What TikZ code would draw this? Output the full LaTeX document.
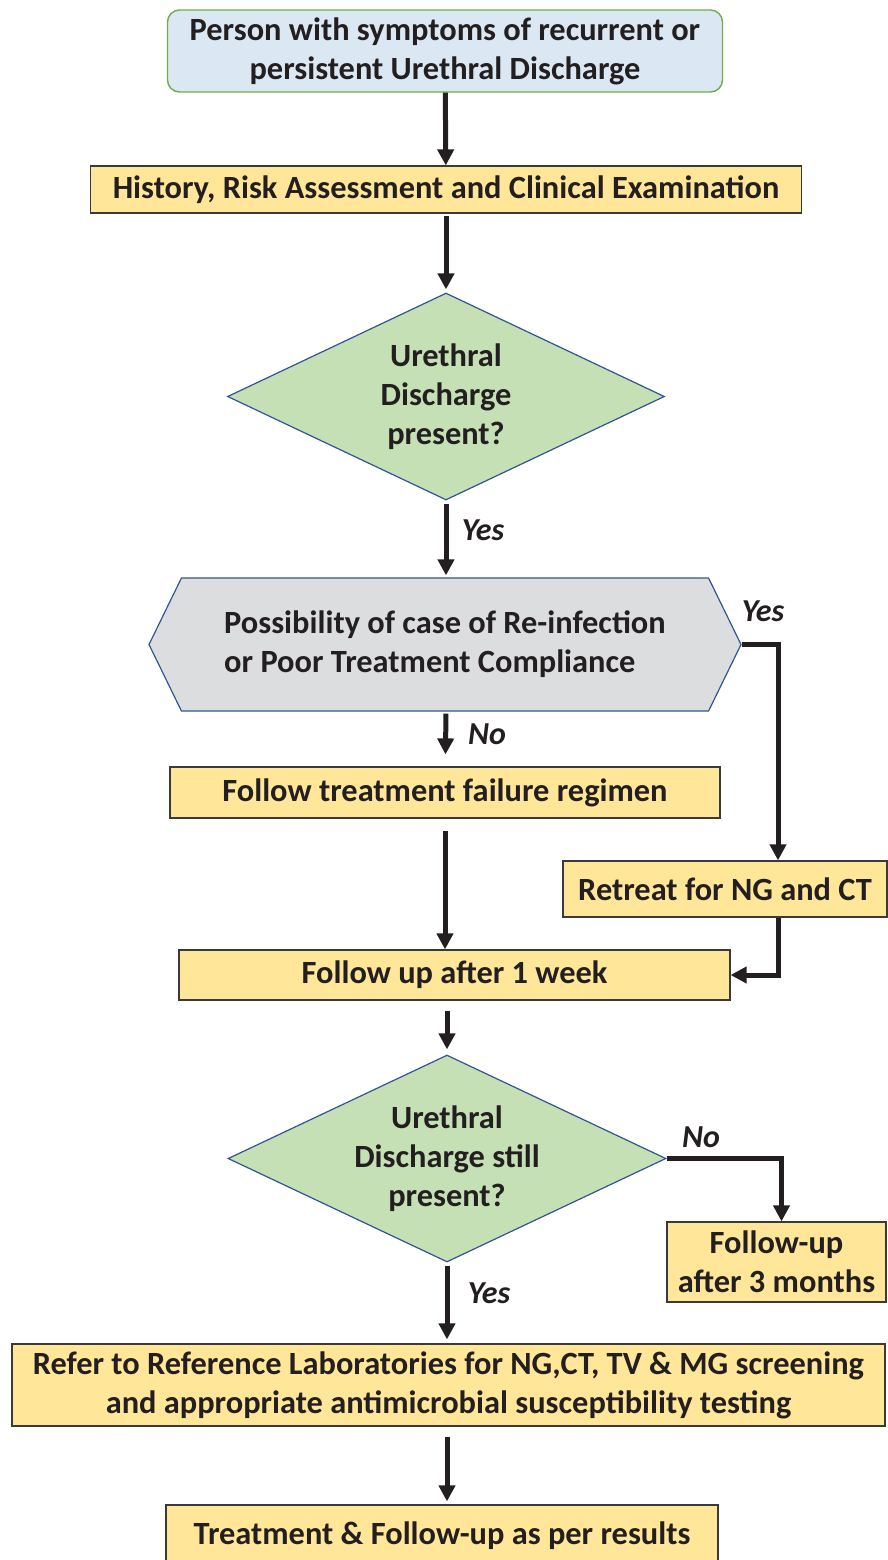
\documentclass[tikz,border=0pt]{standalone}
\usepackage{fontspec}
\setmainfont{Carlito}
\usetikzlibrary{shapes.geometric}
\usetikzlibrary{shapes.symbols}
\usetikzlibrary{arrows.meta}
\usetikzlibrary{calc}

\definecolor{inkblack}{HTML}{231F20}
\definecolor{boxyellow}{HTML}{FFE699}
\definecolor{edgegray}{HTML}{3A3A3A}
\definecolor{edgeblue}{HTML}{2F5597}
\definecolor{leafgreen}{HTML}{C5E0B4}
\definecolor{skyblue}{HTML}{DCE7F4}
\definecolor{startgreen}{HTML}{70AD47}
\definecolor{hexgray}{HTML}{DCDDDF}

\begin{document}
\begin{tikzpicture}[x=0.5pt, y=-0.5pt,
        every node/.style={font=\fontsize{16.2}{19.6}\selectfont\bfseries, text=inkblack},
        stepbox/.style={rectangle, draw=edgegray, line width=0.6pt, fill=boxyellow, align=center, inner sep=0},
        decide/.style={diamond, shape aspect=2.1, draw=edgeblue, line width=0.6pt, fill=leafgreen,
            align=center, inner sep=0, minimum width=218.5pt, minimum height=103.5pt},
        flow/.style={-{Triangle[width=8pt,length=8pt]}, line width=2.5pt, draw=inkblack},
        answer/.style={font=\fontsize{16}{18}\selectfont\bfseries\itshape}]
    \useasboundingbox (0,0) rectangle (888,1560);
    % main column
    \node [rectangle, rounded corners=6pt, draw=startgreen, line width=0.7pt, fill=skyblue, align=center,
        inner sep=0, minimum width=277.5pt, minimum height=41pt] (start) at (445,51)
        {Person with symptoms of recurrent or\\persistent Urethral Discharge};
    \node [stepbox, minimum width=355.5pt, minimum height=23.5pt] (hist) at (446,189.5)
        {History, Risk Assessment and Clinical Examination};
    \node [decide] (dia1) at (446,396.5) {Urethral\\Discharge\\present?};
    \node [signal, signal to=west and east, signal pointer angle=128, draw=edgeblue, line width=0.6pt,
        fill=hexgray, align=left, inner sep=0, minimum width=296pt, minimum height=66.5pt] (hex) at (445,644.5)
        {Possibility of case of Re-infection\\or Poor Treatment Compliance};
    \node [stepbox, minimum width=275pt, minimum height=25.5pt] (fail) at (445,792.5)
        {Follow treatment failure regimen};
    \node [stepbox, minimum width=162pt, minimum height=28pt] (retreat) at (725,889)
        {Retreat for NG and CT};
    \node [stepbox, minimum width=275.5pt, minimum height=25pt] (week) at (454.5,975)
        {Follow up after 1 week};
    \node [decide, minimum width=219pt] (dia2) at (447,1158.5) {Urethral\\Discharge still\\present?};
    \node [stepbox, minimum width=109.5pt, minimum height=40pt] (three) at (776.5,1262)
        {Follow-up\\after 3 months};
    \node [stepbox, minimum width=436.5pt, minimum height=41pt] (refer) at (448.5,1385)
        {Refer to Reference Laboratories for NG,CT, TV \& MG screening\\and appropriate antimicrobial susceptibility testing};
    \node [stepbox, minimum width=276pt, minimum height=31pt] (treat) at (442,1536)
        {Treatment \& Follow-up as per results};
    % answers
    \node [answer] (yes1) at (483,530) {Yes};
    \node [answer] (yes2) at (763,611) {Yes};
    \node [answer] (no1) at (487,734) {No};
    \node [answer] (no2) at (701,1137) {No};
    \node [answer] (yes3) at (489,1293) {Yes};
    % connectors
    \draw [flow] (start) -- (hist);
    \draw [flow, shorten <=1pt, shorten >=1.5pt] (hist) -- (dia1);
    \draw [flow, shorten <=1.5pt, shorten >=1pt] (dia1) -- (dia1.south |- hex.north);
    \draw [flow, shorten <=1pt, shorten >=6pt] (dia1.south |- hex.south) -- (fail);
    \draw [flow] (hex.east) -| ($(retreat.north)+(53,0)$);
    \draw [flow, shorten <=6pt] (fail) -- (fail.south |- week.north);
    \draw [flow] ($(retreat.south)+(53,0)$) |- (week.east);
    \draw [flow, shorten <=5pt, shorten >=2.5pt] (dia2.north |- week.south) -- (dia2.north);
    \draw [flow] (dia2.east) -| ($(three.north)+(5,0)$);
    \draw [flow, shorten <=1.5pt, shorten >=2pt] (dia2) -- (dia2.south |- refer.north);
    \draw [flow, shorten <=5pt, shorten >=1.5pt] (refer.south -| dia2.south) -- (dia2.south |- treat.north);
\end{tikzpicture}
\end{document}
